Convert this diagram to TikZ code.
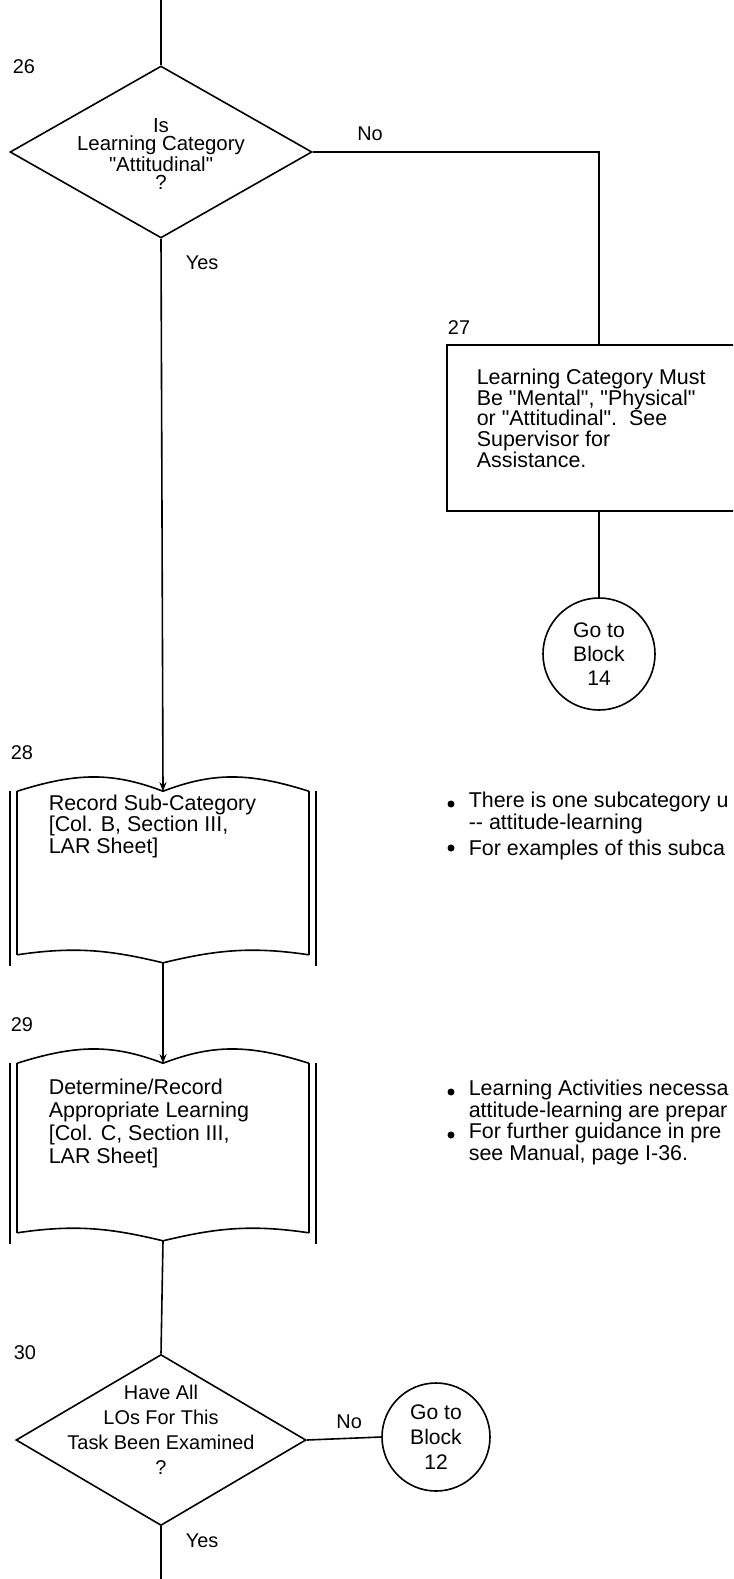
\documentclass[tikz,border=0pt]{standalone}
\usepackage{fontspec}
\setmainfont{Liberation Sans}
\usetikzlibrary{shapes.geometric,arrows.meta,calc}

\newlength\px
\setlength\px{0.03cm}
\newcommand\fs[2]{\fontsize{#1}{#2}\selectfont}
\newcommand\q{\textquotedbl}

% book outline drawn round a text-less node
\newcommand\bookshape[1]{%
  \draw (#1.north west) .. controls +(60,-19) and +(-50,-19) .. (#1.north)
        .. controls +(50,-19) and +(-60,-19) .. (#1.north east);
  \draw (#1.south west) .. controls +(60,-9) and +(-50,-12) .. ($(#1.south)+(0,8)$)
        .. controls +(50,-12) and +(-60,-9) .. (#1.south east);
  \draw (#1.north west) -- (#1.south west);
  \draw (#1.north east) -- (#1.south east);
  \draw ($(#1.north west)+(-7,0)$) -- ($(#1.south west)+(-7,11)$);
  \draw ($(#1.north east)+(7,0)$) -- ($(#1.south east)+(7,11)$);
}

\begin{document}
\begin{tikzpicture}[x=0.03cm, y=-0.03cm, line width=1.6\px,
    every node/.style={inner sep=0pt, font=\fs{17pt}{18pt}},
    decision/.style={draw, diamond},
    goto/.style={draw, circle, minimum size=112\px, align=center, font=\fs{18pt}{20.5pt}},
    page/.style={minimum width=290\px},
    txt/.style={align=left, anchor=base west},
    note/.style={txt, font=\fs{18.3pt}{15.4pt}},
    dot/.style={circle, fill, minimum size=7\px},
    lblabove/.style={anchor=south, yshift=#1},
    lblright/.style={anchor=west, xshift=24\px},
    tip/.style={-{Stealth[length=0.27cm, width=0.21cm]}}]
  \useasboundingbox (0,0) rectangle (733,1579);
  \clip (0,0) rectangle (733,1579);

  \coordinate (top) at (161,0);
  \coordinate (bottom) at (161,1579);

  % block 26
  \node (l26) at (24,67) {26};
  \node[decision, minimum width=302\px, minimum height=172\px] (d26) at (161,152) {};
  \node[align=center, font=\fs{17.4pt}{15.8pt}] (q26) at (161,154) {Is\\Learning Category\\\q Attitudinal\q\\?};

  % block 27
  \node (l27) at (459,328) {27};
  \node[draw, minimum width=313\px, minimum height=166\px] (b27) at (603.5,428) {};
  \node[txt, font=\fs{18.3pt}{17.5pt}] (t27) at (476,467) {Learning Category Must\\Be \q Mental\q, \q Physical\q\\or \q Attitudinal\q.~~See\\Supervisor for\\Assistance.};
  \node[goto] (g14) at (599,654) {Go to\\Block\\14};

  % block 28
  \node (l28) at (22,753) {28};
  \node[page, minimum height=162\px] (b28) at (163,873) {};
  \bookshape{b28}
  \node[txt, font=\fs{18.3pt}{18.35pt}] (t28) at (48,853) {Record Sub-Category\\{[}Col. B, Section III,\\LAR Sheet]};

  % block 29
  \node (l29) at (22,1025) {29};
  \node[page, minimum height=168\px] (b29) at (163,1148) {};
  \bookshape{b29}
  \node[txt, font=\fs{18.3pt}{19.4pt}] (t29) at (48,1163) {Determine/Record\\Appropriate Learning\\{[}Col. C, Section III,\\LAR Sheet]};

  % block 30
  \node (l30) at (25,1353) {30};
  \node[decision, minimum width=290\px, minimum height=171\px] (d30) at (161,1440) {};
  \node[align=center, font=\fs{17pt}{21.3pt}] (q30) at (161,1430) {Have All\\LOs For This\\Task Been Examined\\?};
  \node[goto, minimum size=108\px, font=\fs{18pt}{21.3pt}] (g12) at (436,1437) {Go to\\Block\\12};

  % notes
  \node[dot] (p1) at (451,804) {};
  \node[note] (n1) at (468,829) {There is one subcategory u\\-{}- attitude-learning};
  \node[dot] (p2) at (451,848) {};
  \node[note] (n2) at (468,855) {For examples of this subca};
  \node[dot] (p3) at (451,1092) {};
  \node[note] (n3) at (468,1117) {Learning Activities necessa\\attitude-learning are prepar};
  \node[dot] (p4) at (451,1135) {};
  \node[note] (n4) at (468,1160) {For further guidance in pre\\see Manual, page I-36.};

  % connectors
  \draw (top) -- (d26.north);
  \draw (d26.east) -| (g14.north |- b27.north) node[pos=.1, lblabove=11\px] {No};
  \draw[tip] (d26.south) -- (b28.north) node[pos=.043, lblright] {Yes};
  \draw (b27.south -| g14.north) -- (g14.north);
  \draw[tip] ($(b28.south)+(0,8)$) -- (b29.north);
  \draw ($(b29.south)+(0,8)$) -- (d30.north);
  \draw (d30.east) -- (g12.west) node[pos=.57, lblabove=9\px] {No};
  \draw (d30.south) -- (bottom) node[pos=.27, lblright] {Yes};
\end{tikzpicture}
\end{document}
